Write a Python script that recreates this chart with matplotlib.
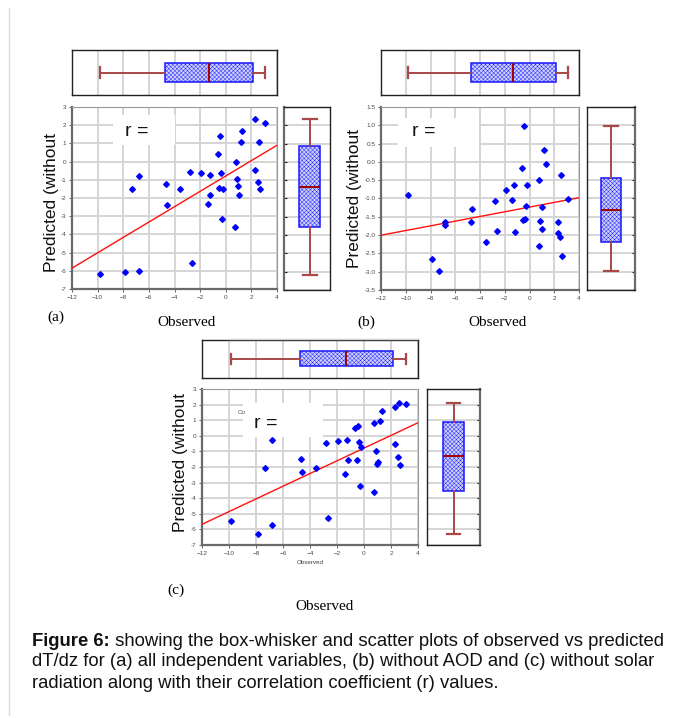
import numpy as np
import matplotlib.pyplot as plt
from matplotlib.patches import Rectangle

W, H = 683, 718

# observed dT/dz (same in every panel) and the three predicted series
observed = [-9.85, -7.84, -7.34, -6.80, -6.80, -4.70, -4.62, -3.55, -2.82, -2.64,
            -1.92, -1.23, -1.41, -1.20, -0.64, -0.48, -0.40, -0.55, -0.19, -0.28,
            0.77, 0.73, 0.88, 0.97, 1.00, 1.19, 1.30, 2.28, 2.31, 2.50, 2.58, 2.66, 3.10]
pred_a = [-6.20, -6.05, -1.48, -6.03, -0.79, -1.21, -2.41, -1.48, -0.57, -5.56,
          -0.64, -0.75, -2.34, -1.81, 0.40, 1.43, -0.60, -1.43, -1.48, -3.13,
          -0.02, -3.60, -0.97, -1.32, -1.81, 1.10, 1.66, 2.32, -0.44, -1.10, 1.10, -1.48, 2.12]
pred_b = [-0.90, -2.66, -2.97, -1.72, -1.65, -1.63, -1.29, -2.20, -1.06, -1.90,
          -0.78, -0.64, -1.04, -1.92, -0.18, 0.98, -1.55, -1.60, -0.64, -1.20,
          -0.49, -2.30, -1.61, -1.82, -1.23, 0.33, -0.07, -1.65, -1.95, -2.06, -0.35, -2.58, -1.02]
pred_c = [-5.48, -6.30, -2.06, -5.72, -0.30, -1.50, -2.29, -2.06, -0.49, -5.29,
          -0.34, -0.28, -2.48, -1.56, 0.47, 0.64, -0.41, -1.58, -0.73, -3.23,
          0.79, -3.62, -0.99, -1.78, -1.69, 0.92, 1.56, 1.82, -0.54, -1.33, 2.12, -1.88, 2.03]

# fitted lines (slope, intercept)
fit_a = (0.422, -0.79)
fit_b = (0.064, -1.235)
fit_c = (0.407, -0.79)

x_ticks = [-12, -10, -8, -6, -4, -2, 0, 2, 4]
y_ticks_a = [-7, -6, -5, -4, -3, -2, -1, 0, 1, 2, 3]
y_ticks_b = [-3.5, -3.0, -2.5, -2.0, -1.5, -1.0, -0.5, 0.0, 0.5, 1.0, 1.5]
y_ticks_c = y_ticks_a

caption_bold = "Figure 6:"
caption_rest = [" showing the box-whisker and scatter plots of observed vs predicted",
                "dT/dz for (a) all independent variables, (b) without AOD and (c) without solar",
                "radiation along with their correlation coefficient (r) values."]

plt.rcParams['font.family'] = ['Liberation Sans', 'DejaVu Sans']
plt.rcParams['hatch.linewidth'] = 0.3

GRID = '#d2d2d2'
TICKC = '#4a4a4a'
WHISK = '#a84848'
MED = '#a00000'

fig = plt.figure(figsize=(W / 100, H / 100), dpi=100)


def px_axes(x0, y0, x1, y1):
    return fig.add_axes([x0 / W, 1 - y1 / H, (x1 - x0) / W, (y1 - y0) / H])


def mean_sd_stats(v):
    v = np.asarray(v)
    m, s = v.mean(), v.std(ddof=1)
    return [dict(med=m, q1=m - s, q3=m + s, whislo=v.min(), whishi=v.max(), fliers=[])]


def draw_box(ax, values, orient, pos, width, capw):
    ax.bxp(mean_sd_stats(values), positions=[pos], widths=width, capwidths=capw,
           orientation=orient, patch_artist=True, showfliers=False, manage_ticks=False,
           boxprops=dict(facecolor='#cdd0fa', edgecolor='#1818ff', linewidth=1.1, hatch='xxxxxxxx'),
           whiskerprops=dict(color=WHISK, linewidth=1.4),
           capprops=dict(color=WHISK, linewidth=1.6),
           medianprops=dict(color=MED, linewidth=1.4))


def style_frame(ax):
    for s in ax.spines.values():
        s.set_color('#222222')
        s.set_linewidth(1.0)
    ax.set_axisbelow(True)


def scatter_panel(ax, yvals, fit, yticks, ylim, fmt):
    ax.set_xlim(-12, 4)
    ax.set_ylim(*ylim)
    ax.set_xticks(x_ticks)
    ax.set_yticks(yticks)
    ax.set_yticklabels([fmt.format(t) for t in yticks])
    ax.grid(True, color=GRID, linewidth=1.3)
    ax.set_axisbelow(True)
    ax.tick_params(labelsize=4.6, colors=TICKC, length=2, width=0.6, pad=2)
    for side in ['left', 'bottom']:
        ax.spines[side].set_color('#6a6a6a')
        ax.spines[side].set_linewidth(1.6)
    for side in ['top', 'right']:
        ax.spines[side].set_color('#9a9a9a')
        ax.spines[side].set_linewidth(0.8)
    xs = np.array([-12, 4])
    ax.plot(xs, fit[0] * xs + fit[1], color='#ff1010', linewidth=1.0, zorder=3)
    ax.plot(observed, yvals, linestyle='none', marker='D', markersize=2.9,
            color='#0000ff', zorder=4)


def r_box(ax, x, y, w, h, tx, ty):
    ax.add_patch(Rectangle((x, y), w, h, transform=ax.transAxes, facecolor='white',
                           edgecolor='none', zorder=2))
    ax.text(tx, ty, "r =", transform=ax.transAxes, fontsize=14, va='center', ha='left',
            color='#111111', zorder=5)


def top_box(ax, values, pos, width, capw):
    draw_box(ax, values, 'horizontal', pos, width, capw)
    ax.set_xlim(-12, 4)
    ax.set_ylim(0, 1)
    ax.set_xticks(x_ticks)
    ax.set_yticks([])
    ax.tick_params(labelbottom=False, length=0)
    ax.grid(True, axis='x', color=GRID, linewidth=1.3)
    style_frame(ax)


def side_box(ax, values, yticks, ylim, pos, width, capw, side):
    draw_box(ax, values, 'vertical', pos, width, capw)
    ax.set_ylim(*ylim)
    ax.set_xlim(0, 1)
    ax.set_yticks(yticks)
    ax.set_xticks([])
    ax.grid(True, axis='y', color=GRID, linewidth=1.3)
    ax.tick_params(axis='y', direction='in', length=2, width=0.8, colors='#222222',
                   labelleft=False, left=(side == 'left'), right=(side == 'right'))
    style_frame(ax)
    ax.spines[side].set_color('#6a6a6a')
    ax.spines[side].set_linewidth(1.6)


# ---- panel (a) ----
ax_a = px_axes(72, 107, 277, 289)
scatter_panel(ax_a, pred_a, fit_a, y_ticks_a, (-7, 3), "{:g}")
r_box(ax_a, 0.20, 0.79, 0.30, 0.165, 0.26, 0.865)
top_box(px_axes(72, 50, 277, 95), observed, 0.5, 0.41, 0.26)
side_box(px_axes(284, 107, 330, 290), pred_a, y_ticks_a, (-7, 3), 0.56, 0.46, 0.30, 'left')
fig.text(52 / W, 1 - 203 / H, "Predicted (without", rotation=90, fontsize=12.5,
         ha='center', va='center', color='#111111')
fig.text(56 / W, 1 - 317 / H, "(a)", family='Liberation Serif', fontsize=11, ha='center', va='center')
fig.text(187 / W, 1 - 322 / H, "Observed", family='Liberation Serif', fontsize=11,
         ha='center', va='center')

# ---- panel (b) ----
ax_b = px_axes(381, 107, 579, 290)
scatter_panel(ax_b, pred_b, fit_b, y_ticks_b, (-3.5, 1.5), "{:.1f}")
r_box(ax_b, 0.086, 0.78, 0.41, 0.16, 0.157, 0.865)
top_box(px_axes(381, 50, 579, 95), observed, 0.5, 0.41, 0.26)
side_box(px_axes(587, 107, 635, 290), pred_b, y_ticks_b, (-3.5, 1.5), 0.50, 0.41, 0.28, 'right')
fig.text(354 / W, 1 - 199 / H, "Predicted (without", rotation=90, fontsize=12.5,
         ha='center', va='center', color='#111111')
fig.text(366 / W, 1 - 322 / H, "(b)", family='Liberation Serif', fontsize=11, ha='center', va='center')
fig.text(497 / W, 1 - 322 / H, "Observed", family='Liberation Serif', fontsize=11,
         ha='center', va='center')

# ---- panel (c) ----
ax_c = px_axes(202, 389, 418, 545)
scatter_panel(ax_c, pred_c, fit_c, y_ticks_c, (-7, 3), "{:g}")
r_box(ax_c, 0.19, 0.69, 0.37, 0.22, 0.24, 0.78)
ax_c.text(0.165, 0.85, "Co", transform=ax_c.transAxes, fontsize=4.5, color='#555555',
          va='center', zorder=5)
ax_c.set_xlabel("Observed", fontsize=4.5, color='#444444', labelpad=3)
top_box(px_axes(202, 340, 418, 378), observed, 0.51, 0.41, 0.26)
side_box(px_axes(427, 389, 480, 545), pred_c, y_ticks_c, (-7, 3), 0.50, 0.415, 0.26, 'right')
fig.text(181 / W, 1 - 462 / H, "Predicted (without", rotation=90, fontsize=12.5,
         ha='center', va='center', color='#111111')
fig.text(176 / W, 1 - 590 / H, "(c)", family='Liberation Serif', fontsize=11, ha='center', va='center')
fig.text(325 / W, 1 - 606 / H, "Observed", family='Liberation Serif', fontsize=11,
         ha='center', va='center')

# faint frame lines of the original page
fig.add_artist(plt.Line2D([9 / W, 9 / W], [0.004, 1 - 8 / H], color='#dcdcdc', linewidth=1.0))
fig.add_artist(plt.Line2D([228 / W, 418 / W], [1 - 339 / H, 1 - 339 / H], color='#d0d0d0', linewidth=1.0))

# ---- caption ----
cap_y = [641, 662, 683]
renderer = fig.canvas.get_renderer()
t_bold = fig.text(32 / W, 1 - cap_y[0] / H, caption_bold, fontsize=13.3, fontweight='bold',
                  ha='left', va='center', color='#111111')
bb = t_bold.get_window_extent(renderer)
fig.text(bb.x1 / W, 1 - cap_y[0] / H, caption_rest[0], fontsize=13.3, ha='left', va='center',
         color='#111111')
for y, line in zip(cap_y[1:], caption_rest[1:]):
    fig.text(32 / W, 1 - y / H, line, fontsize=13.3, ha='left', va='center', color='#111111')

fig.savefig("out.png", dpi=100)
